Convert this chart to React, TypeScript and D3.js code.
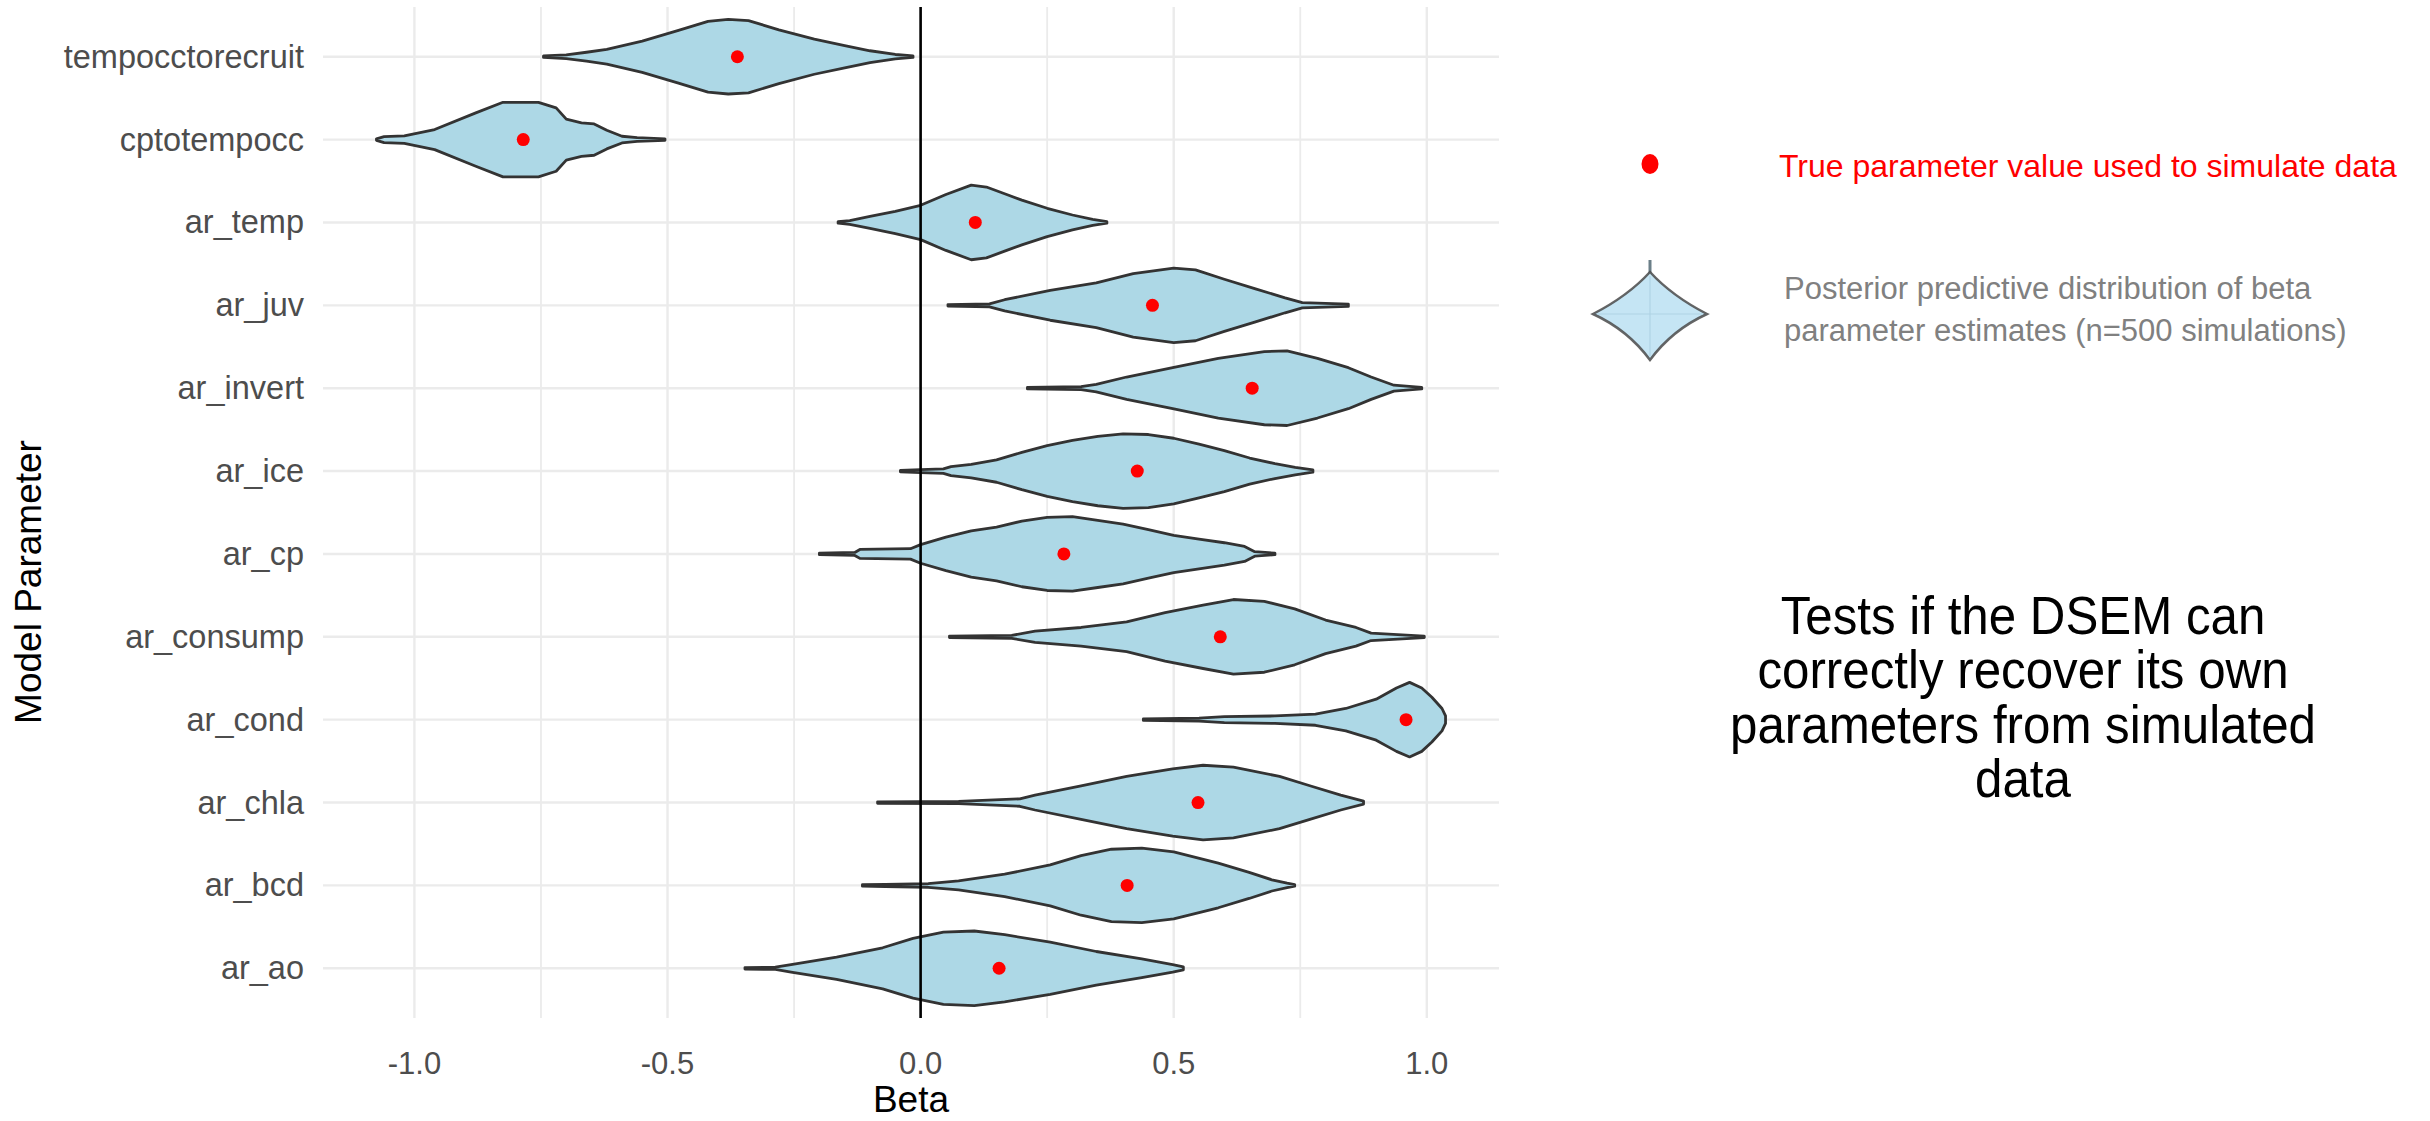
import React from "react";
import * as d3 from "d3";

const categories = [
  "tempocctorecruit", "cptotempocc", "ar_temp", "ar_juv", "ar_invert", "ar_ice",
  "ar_cp", "ar_consump", "ar_cond", "ar_chla", "ar_bcd", "ar_ao",
];

const trueValues = [-0.362, -0.785, 0.108, 0.458, 0.655, 0.428, 0.283, 0.592, 0.959, 0.548, 0.408, 0.155];

// violin outlines: [beta, relative half width]
const vTempocctorecruit = [[-0.745, 0.02], [-0.70, 0.05], [-0.66, 0.12], [-0.62, 0.2], [-0.55, 0.42], [-0.48, 0.7], [-0.42, 0.95], [-0.38, 1.0], [-0.34, 0.97], [-0.28, 0.72], [-0.21, 0.47], [-0.15, 0.3], [-0.10, 0.16], [-0.05, 0.06], [-0.015, 0.02]];
const vCptotempocc = [[-1.075, 0.02], [-1.06, 0.08], [-1.02, 0.1], [-0.96, 0.27], [-0.88, 0.71], [-0.825, 1.0], [-0.755, 1.0], [-0.72, 0.85], [-0.70, 0.55], [-0.67, 0.45], [-0.645, 0.42], [-0.62, 0.25], [-0.59, 0.09], [-0.56, 0.05], [-0.505, 0.02]];
const vArTemp = [[-0.163, 0.02], [-0.14, 0.05], [-0.10, 0.16], [-0.05, 0.3], [0.0, 0.46], [0.05, 0.75], [0.1, 1.0], [0.13, 0.95], [0.17, 0.75], [0.2, 0.6], [0.25, 0.38], [0.3, 0.2], [0.34, 0.08], [0.368, 0.02]];
const vArJuv = [[0.054, 0.02], [0.136, 0.04], [0.166, 0.15], [0.256, 0.4], [0.347, 0.6], [0.42, 0.85], [0.5, 1.0], [0.543, 0.95], [0.6, 0.7], [0.66, 0.45], [0.72, 0.2], [0.754, 0.07], [0.845, 0.03]];
const vArInvert = [[0.211, 0.02], [0.317, 0.04], [0.347, 0.1], [0.407, 0.3], [0.498, 0.55], [0.588, 0.8], [0.679, 0.98], [0.724, 1.0], [0.784, 0.8], [0.845, 0.55], [0.89, 0.3], [0.935, 0.08], [0.99, 0.02]];
const vArIce = [[-0.04, 0.02], [0.0, 0.04], [0.045, 0.06], [0.06, 0.12], [0.1, 0.18], [0.15, 0.3], [0.2, 0.5], [0.25, 0.68], [0.3, 0.82], [0.35, 0.93], [0.4, 1.0], [0.45, 0.98], [0.5, 0.88], [0.55, 0.72], [0.6, 0.55], [0.65, 0.35], [0.7, 0.2], [0.74, 0.1], [0.775, 0.03]];
const vArCp = [[-0.2, 0.02], [-0.13, 0.04], [-0.12, 0.12], [-0.02, 0.14], [0.0, 0.25], [0.05, 0.45], [0.1, 0.62], [0.15, 0.72], [0.2, 0.88], [0.25, 0.98], [0.3, 1.0], [0.35, 0.9], [0.4, 0.8], [0.45, 0.65], [0.5, 0.5], [0.55, 0.4], [0.6, 0.3], [0.64, 0.2], [0.66, 0.06], [0.70, 0.02]];
const vArConsump = [[0.057, 0.02], [0.18, 0.04], [0.226, 0.15], [0.317, 0.25], [0.407, 0.4], [0.483, 0.65], [0.558, 0.85], [0.618, 1.0], [0.679, 0.95], [0.739, 0.75], [0.8, 0.45], [0.86, 0.25], [0.89, 0.1], [0.995, 0.02]];
const vArCond = [[0.44, 0.02], [0.55, 0.04], [0.6, 0.08], [0.7, 0.1], [0.78, 0.15], [0.84, 0.3], [0.9, 0.55], [0.94, 0.85], [0.966, 1.0], [0.99, 0.85], [1.01, 0.6], [1.03, 0.3], [1.037, 0.1]];
const vArChla = [[-0.085, 0.02], [0.075, 0.03], [0.196, 0.1], [0.226, 0.2], [0.317, 0.45], [0.407, 0.7], [0.498, 0.9], [0.558, 1.0], [0.618, 0.95], [0.709, 0.7], [0.769, 0.45], [0.83, 0.2], [0.875, 0.04]];
const vArBcd = [[-0.115, 0.02], [-0.07, 0.03], [0.015, 0.05], [0.075, 0.12], [0.166, 0.3], [0.256, 0.55], [0.317, 0.8], [0.377, 0.97], [0.437, 1.0], [0.5, 0.9], [0.588, 0.6], [0.649, 0.35], [0.694, 0.15], [0.724, 0.06], [0.739, 0.02]];
const vArAo = [[-0.347, 0.02], [-0.287, 0.03], [-0.256, 0.1], [-0.166, 0.3], [-0.075, 0.55], [-0.015, 0.8], [0.045, 0.97], [0.106, 1.0], [0.166, 0.9], [0.256, 0.7], [0.347, 0.45], [0.437, 0.25], [0.498, 0.1], [0.519, 0.04]];

const violins = [vTempocctorecruit, vCptotempocc, vArTemp, vArJuv, vArInvert, vArIce, vArCp, vArConsump, vArCond, vArChla, vArBcd, vArAo];

const majorTicks = [-1.0, -0.5, 0.0, 0.5, 1.0];
const minorTicks = [-0.75, -0.25, 0.25, 0.75];

const legendDotLabel = "True parameter value used to simulate data";
const legendViolinLabel = ["Posterior predictive distribution of beta", "parameter estimates (n=500 simulations)"];
const noteLines = ["Tests if the DSEM can", "correctly recover its own", "parameters from simulated", "data"];

const FONT = "'Liberation Sans', Arial, sans-serif";

export default function App() {
  const W = 2430, H = 1121;
  const panel = { left: 323, right: 1499, top: 7, bottom: 1018 };
  const allX = violins.flat().map((d) => d[0]);
  const lo = d3.min(allX) as number, hi = d3.max(allX) as number;
  const pad = (hi - lo) * 0.05;
  const x = d3.scaleLinear().domain([lo - pad, hi + pad]).range([panel.left, panel.right]);
  const y = d3.scalePoint<string>().domain(categories).range([panel.top, panel.bottom]).padding(0.6);
  const hmax = y.step() * 0.45;

  return (
    <div style={{ position: "absolute", left: 0, top: 0, width: W, height: H, background: "#fff" }}>
      <svg width={W} height={H} style={{ display: "block" }} fontFamily={FONT}>
        <rect x={0} y={0} width={W} height={H} fill="#fff" />
        {/* grid */}
        {minorTicks.map((t) => (
          <line key={"mi" + t} x1={x(t)} x2={x(t)} y1={panel.top} y2={panel.bottom} stroke="#EBEBEB" strokeWidth={1.8} />
        ))}
        {majorTicks.map((t) => (
          <line key={"ma" + t} x1={x(t)} x2={x(t)} y1={panel.top} y2={panel.bottom} stroke="#EBEBEB" strokeWidth={2.4} />
        ))}
        {categories.map((c) => (
          <line key={"hg" + c} x1={panel.left} x2={panel.right} y1={y(c)} y2={y(c)} stroke="#EBEBEB" strokeWidth={2.4} />
        ))}
        {/* violins */}
        {categories.map((c, i) => {
          const yc = y(c) as number;
          const area = d3
            .area<number[]>()
            .x((d) => x(d[0]))
            .y0((d) => yc + d[1] * hmax)
            .y1((d) => yc - d[1] * hmax)
            .curve(d3.curveLinear);
          return (
            <path key={"v" + c} d={area(violins[i]) || ""} fill="#ADD8E6" stroke="#333333" strokeWidth={2.8} strokeLinejoin="round" />
          );
        })}
        {/* zero line */}
        <line x1={x(0)} x2={x(0)} y1={panel.top} y2={panel.bottom} stroke="#000" strokeWidth={2.6} />
        {/* true values */}
        {categories.map((c, i) => (
          <circle key={"p" + c} cx={x(trueValues[i])} cy={y(c)} r={6.5} fill="#FF0000" />
        ))}
        {/* y axis labels */}
        {categories.map((c) => (
          <text key={"yl" + c} x={panel.left - 19} y={(y(c) as number) + 11} textAnchor="end" fontSize={32.5} fill="#4D4D4D">
            {c}
          </text>
        ))}
        {/* x axis labels */}
        {majorTicks.map((t) => (
          <text key={"xl" + t} x={x(t)} y={1074} textAnchor="middle" fontSize={31} fill="#4D4D4D">
            {d3.format(".1f")(t).replace("−", "-")}
          </text>
        ))}
        {/* axis titles */}
        <text x={(panel.left + panel.right) / 2} y={1112} textAnchor="middle" fontSize={37} fill="#000">Beta</text>
        <text transform={`translate(41, 582) rotate(-90)`} textAnchor="middle" fontSize={37} fill="#000">Model Parameter</text>

        {/* legend */}
        <ellipse cx={1650} cy={164} rx={8.5} ry={10} fill="#FF0000" />
        <text x={1779} y={177} fontSize={32} fill="#FF0000">{legendDotLabel}</text>

        <g>
          <line x1={1650} x2={1650} y1={260} y2={274} stroke="#6b7f88" strokeWidth={3} />
          <path
            d="M1650,272 Q1672,296 1707,314 Q1672,330 1650,360 Q1628,330 1593,314 Q1628,296 1650,272 Z"
            fill="#C5E5F4"
            stroke="#4a4a4a"
            strokeWidth={2.5}
            strokeOpacity={0.85}
          />
          <line x1={1597} x2={1703} y1={314} y2={314} stroke="#AFD3E4" strokeWidth={1.2} />
          <line x1={1650} x2={1650} y1={276} y2={356} stroke="#AFD3E4" strokeWidth={1.2} />
        </g>
        {legendViolinLabel.map((t, i) => (
          <text key={"lv" + i} x={1784} y={299 + i * 42} fontSize={31} fill="#808080">{t}</text>
        ))}

        {/* note */}
        <g transform="translate(2023,0) scale(0.93,1)">
          {noteLines.map((t, i) => (
            <text key={"n" + i} x={0} y={634 + i * 54.5} textAnchor="middle" fontSize={53} fill="#000">{t}</text>
          ))}
        </g>
      </svg>
    </div>
  );
}
